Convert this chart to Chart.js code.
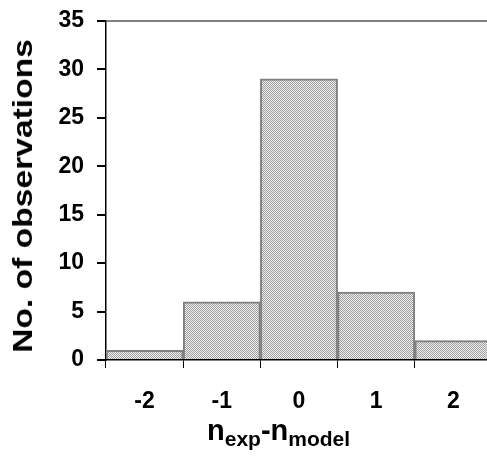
<!DOCTYPE html>
<html>
<head>
<meta charset="utf-8">
<script src="https://cdn.jsdelivr.net/npm/chart.js@4/dist/chart.umd.min.js"></script>
<style>
  html, body { margin: 0; padding: 0; background: #fff; overflow: hidden; width: 487px; height: 460px; }
  #wrap { position: relative; width: 492px; height: 460px; }
  #c { position: absolute; left: 0; top: -6px; }
  .t { position: absolute; font-family: "Liberation Sans", Arial, sans-serif; font-weight: bold; color: #000; white-space: nowrap; }
  #xtitle { left: 207px; top: 414px; font-size: 29px; line-height: 32px; }
  #xtitle sub { font-size: 21px; vertical-align: -6px; }
  #ytitle { left: 23px; top: 196px; font-size: 28px; line-height: 30px; transform: translate(-50%, -50%) rotate(-90deg) scaleX(1.2); }
</style>
</head>
<body>
<div id="wrap">
  <canvas id="c" width="492" height="466"></canvas>
  <div id="xtitle" class="t">n<sub>exp</sub>-n<sub>model</sub></div>
  <div id="ytitle" class="t">No. of observations</div>
</div>
<script>
const categories = ["-2", "-1", "0", "1", "2"];
const observations = [1, 6, 29, 7, 2];
const yTicks = [0, 5, 10, 15, 20, 25, 30, 35];

const pc = document.createElement('canvas');
pc.width = 2; pc.height = 2;
const px = pc.getContext('2d');
px.fillStyle = '#eeeeee'; px.fillRect(0, 0, 2, 2);
px.fillStyle = '#a0a0a0'; px.fillRect(0, 0, 1, 1); px.fillRect(1, 1, 1, 1);
const ctx = document.getElementById('c').getContext('2d');
const pattern = ctx.createPattern(pc, 'repeat');

const FONT = "'Liberation Sans', Arial, sans-serif";

new Chart(ctx, {
  type: 'bar',
  data: {
    labels: categories,
    datasets: [{
      data: observations,
      backgroundColor: pattern,
      borderColor: '#808080',
      borderWidth: 2,
      categoryPercentage: 1,
      barPercentage: 1
    }]
  },
  options: {
    responsive: false,
    animation: false,
    layout: { padding: { top: 8, left: 0, right: 0, bottom: 0 } },
    plugins: { legend: { display: false }, tooltip: { enabled: false } },
    scales: {
      x: {
        offset: true,
        grid: { offset: true, drawOnChartArea: false, drawTicks: true, tickLength: 8, tickColor: '#000', color: '#000' },
        border: { display: true, color: '#000', width: 1.5 },
        ticks: { color: '#000', font: { family: FONT, size: 23, weight: 'bold' }, padding: 20, maxRotation: 0 },
        afterFit: s => { s.height = 100; }
      },
      y: {
        min: 0, max: 35,
        afterBuildTicks: s => { s.ticks = yTicks.map(v => ({ value: v })); },
        grid: {
          drawTicks: true, tickLength: 9, tickColor: '#000',
          color: c => (c.tick && c.tick.value === 35) ? '#808080' : 'rgba(0,0,0,0)',
          lineWidth: 2
        },
        border: { display: true, color: '#000', width: 1.5 },
        ticks: { color: '#000', font: { family: FONT, size: 23, weight: 'bold' }, padding: 13 },
        afterFit: s => { s.width = 106; }
      }
    }
  }
});
</script>
</body>
</html>
